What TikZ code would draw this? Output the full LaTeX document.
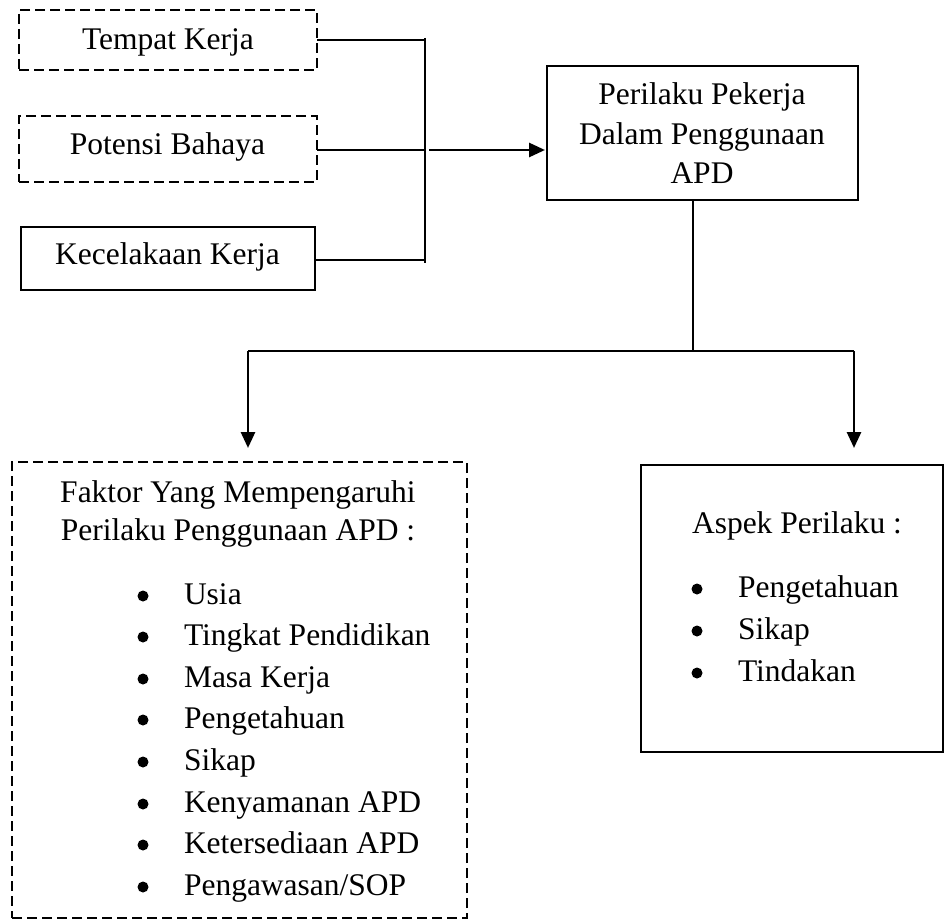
\documentclass[tikz,border=0pt]{standalone}
\usepackage{fontspec}
\setmainfont{Liberation Serif}
\usetikzlibrary{arrows.meta}
\begin{document}
\begin{tikzpicture}[x=1pt,y=-1pt,
  every node/.style={inner sep=0pt, outer sep=0pt},
  txt/.style={font=\fontsize{31.5}{38}\selectfont, anchor=base},
  itm/.style={font=\fontsize{31.5}{38}\selectfont, anchor=base west},
  sbox/.style={draw, line width=2.6pt, rectangle},
  dbox/.style={draw, line width=2.6pt, rectangle, dash pattern=on 10pt off 5pt},
  thinline/.style={draw, line width=1.3pt},
  arr/.style={draw, line width=2.8pt, -{Triangle[length=16pt,width=14pt]}},
  bul/.style={circle, fill=black, minimum size=11pt}
]
\useasboundingbox (0,0) rectangle (945,920);

% left input boxes
\node[dbox, minimum width=298pt, minimum height=60pt] (tk) at (168,40) {};
\node[txt] (tkt) at (168,50) {Tempat Kerja};
\node[dbox, minimum width=298pt, minimum height=66pt] (pb) at (168,149) {};
\node[txt] (pbt) at (167.5,155) {Potensi Bahaya};
\node[sbox, minimum width=294pt, minimum height=63pt] (kk) at (168,258.5) {};
\node[txt] (kkt) at (167.5,265) {Kecelakaan Kerja};

% main box
\node[sbox, minimum width=311pt, minimum height=134pt] (pp) at (702.5,133) {};
\node[txt] (pp1) at (702,105) {Perilaku Pekerja};
\node[txt] (pp2) at (702,145) {Dalam Penggunaan};
\node[txt] (pp3) at (702,184) {APD};

% lower left dashed box
\node[dbox, minimum width=455pt, minimum height=456pt] (fk) at (239.5,690) {};
\node[txt] (fk1) at (238,502) {Faktor Yang Mempengaruhi};
\node[txt] (fk2) at (238,540) {Perilaku Penggunaan APD :};
\foreach \y/\t [count=\i] in {604/Usia, 645/Tingkat Pendidikan, 687/Masa Kerja, 728/Pengetahuan, 770/Sikap, 812/Kenyamanan APD, 853/Ketersediaan APD, 895/{Pengawasan/SOP}}{
  \node[bul] (fb\i) at (143,\y-8) {};
  \node[itm] (fi\i) at (184,\y) {\t};
}

% lower right box
\node[sbox, minimum width=302pt, minimum height=287pt] (ap) at (792,608.5) {};
\node[itm] (ap0) at (692,533) {Aspek Perilaku :};
\foreach \y/\t [count=\i] in {597/Pengetahuan, 639/Sikap, 681/Tindakan}{
  \node[bul] (ab\i) at (697,\y-8) {};
  \node[itm] (ai\i) at (738,\y) {\t};
}

% connectors from inputs
\coordinate (jt) at (425,38);
\coordinate (jb) at (425,263);
\coordinate (j1) at (425,40);
\coordinate (j2) at (425,150);
\coordinate (j3) at (425,260);
\draw[thinline] (j1 -| tk.east) -- (j1);
\draw[thinline] (j2 -| pb.east) -- (j2);
\draw[thinline] (j3 -| kk.east) -- (j3);
\draw[thinline] (jt) -- (jb);
\coordinate (a0) at (429,150);
\draw[arr, shorten >=2pt] (a0) -- (a0 -| pp.west);

% branch down
\coordinate (d1) at (693,351);
\coordinate (hl) at (248,351);
\coordinate (hr) at (854,351);
\draw[thinline] (d1 |- pp.south) -- (d1);
\draw[thinline] (hl) -- (hr);
\draw[arr, shorten >=14pt] (hl) -- (hl |- fk.north);
\draw[arr, shorten >=17pt] (hr) -- (hr |- ap.north);
\end{tikzpicture}
\end{document}
